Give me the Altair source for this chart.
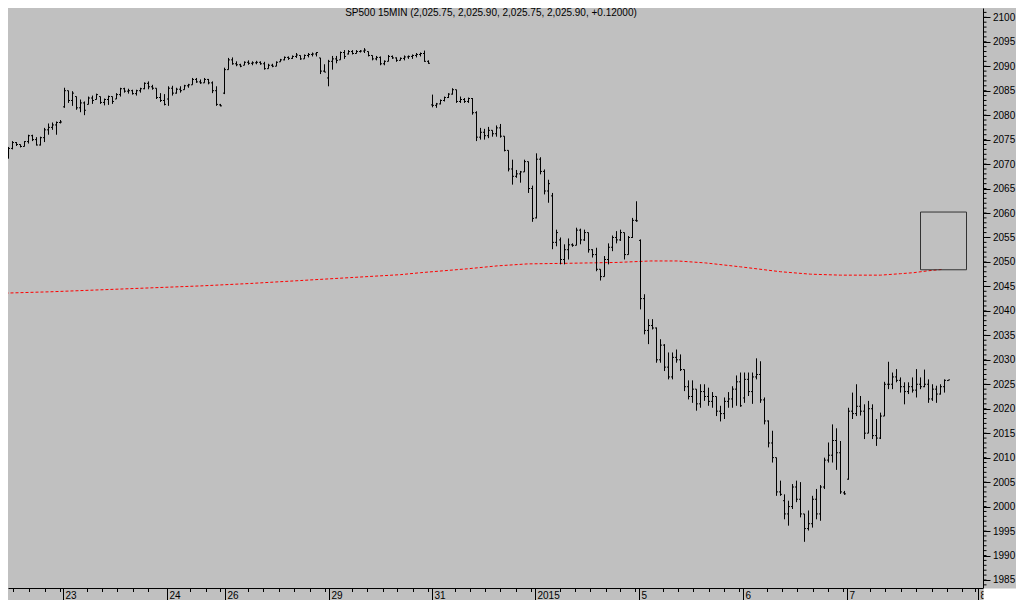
import altair as alt
import pandas as pd

FONT = "Liberation Sans"

# ---------------- data ----------------
title_text = "SP500 15MIN (2,025.75, 2,025.90, 2,025.75, 2,025.90, +0.12000)"

# x axis: day labels and their positions (in 15-minute bar slots)
day_labels = ["23", "24", "26", "29", "31", "2015", "5", "6", "7", "8"]
day_tick_slots = [15.625, 41.625, 56.125, 82.125, 107.875, 133.625, 159.625, 185.625, 211.625, 244.375]
hour_tick_slots = [3.25, 7.25, 11.25, 15.0, 21.75, 25.5, 29.25, 33.25, 37.0, 47.5, 51.5, 55.0,
                   62.0, 65.75, 69.75, 73.5, 77.5, 81.25, 88.0, 91.75, 95.75, 99.25, 103.25, 107.0,
                   113.75, 117.5, 121.25, 125.0, 129.0, 132.75, 140.0, 143.75, 147.5, 151.5, 155.0,
                   158.75, 165.75, 169.5, 173.25, 177.25, 181.0, 184.75, 191.75, 195.5, 199.25,
                   203.25, 207.0, 210.75, 217.5, 221.25, 225.25, 229.0, 233.0, 236.75, 240.5, 243.75]

# y axis
price_ticks = list(range(1985, 2101, 5))
price_minor = list(range(1984, 2102))

# OHLC bars (Dec 22 .. Jan 7)
opens = [
    2071.3, 2071.2, 2071.4, 2073.2, 2074.4, 2074.0, 2073.6, 2074.6, 2075.8, 2075.0, 2073.9, 2075.4, 2077.0, 2077.5, 2078.0, 2078.5,
    2081.7, 2085.0, 2083.0, 2083.8, 2081.5, 2082.5, 2082.2, 2083.5, 2083.2, 2083.8, 2082.6, 2083.2, 2083.8, 2083.3, 2084.2, 2085.4, 2084.9, 2085.0, 2084.4, 2085.0, 2085.4, 2086.5, 2085.8, 2085.5, 2083.6, 2083.0,
    2083.3, 2085.5, 2084.5, 2085.3, 2085.2, 2086.0, 2086.2, 2087.3, 2086.8, 2086.6, 2087.3, 2086.6, 2085.0, 2082.1,
    2084.5, 2089.3, 2091.3, 2090.5, 2090.3, 2090.2, 2090.8, 2090.6, 2090.7, 2090.8, 2090.5, 2089.5, 2090.2, 2090.0, 2090.9, 2091.3, 2091.8, 2091.6, 2092.0, 2092.2, 2091.5, 2092.2, 2092.4, 2092.5, 2091.7, 2089.0,
    2087.6, 2091.0, 2091.5, 2091.3, 2092.8, 2092.5, 2093.0, 2092.6, 2093.0, 2093.1, 2093.0, 2092.2, 2091.5, 2091.8, 2090.5, 2091.0, 2092.0, 2091.7, 2091.2, 2091.6, 2091.9, 2092.0, 2092.2, 2092.4, 2092.6, 2091.0,
    2082.1, 2082.0, 2082.3, 2083.0, 2083.6, 2084.3, 2085.2, 2082.8, 2083.2, 2082.8, 2083.4, 2080.5, 2075.5, 2076.5, 2075.8, 2076.9, 2076.2, 2077.4, 2075.7, 2072.8, 2069.0, 2067.5, 2068.0, 2068.4, 2070.5, 2065.0,
    2059.0, 2071.0, 2068.5, 2064.5, 2063.5, 2054.0, 2054.5, 2050.5, 2052.5, 2053.5, 2053.4, 2056.5, 2054.5, 2056.0, 2052.5, 2051.5, 2048.5, 2047.0, 2050.5, 2053.0, 2055.0, 2054.5, 2056.0, 2051.5, 2055.0, 2058.5,
    2054.4, 2042.5, 2036.0, 2037.0, 2036.5, 2030.0, 2033.0, 2028.5, 2026.5, 2030.5, 2030.0, 2028.0, 2024.5, 2022.5, 2024.0, 2021.0, 2023.5, 2022.5, 2021.5, 2022.5, 2019.5, 2019.0, 2021.5, 2022.0, 2024.0, 2025.5,
    2022.2, 2026.0, 2023.5, 2026.5, 2027.0, 2021.8, 2017.5, 2013.0, 2010.0, 2003.0, 2001.2, 1998.5, 2000.0, 2004.0, 2001.5, 1998.5, 1995.5, 1996.5, 2001.5, 1998.5, 2004.0, 2009.5, 2010.5, 2013.5, 2011.0, 2002.8,
    2005.6, 2019.5, 2019.0, 2020.5, 2019.5, 2015.0, 2020.0, 2014.5, 2014.0, 2018.5, 2025.0, 2025.0, 2026.5, 2025.8, 2024.5, 2023.5, 2024.5, 2023.8, 2025.0, 2024.5, 2025.0, 2022.0, 2024.0, 2023.0, 2024.5, 2025.75,
]
highs = [
    2071.6, 2071.7, 2073.5, 2074.7, 2074.5, 2074.0, 2074.7, 2076.0, 2076.0, 2075.5, 2075.6, 2077.4, 2078.3, 2078.5, 2078.7, 2079.0,
    2085.6, 2085.0, 2084.9, 2083.8, 2083.2, 2082.8, 2083.8, 2084.0, 2084.4, 2083.8, 2083.4, 2084.0, 2083.8, 2084.5, 2085.6, 2085.6, 2085.4, 2085.2, 2085.2, 2085.6, 2086.7, 2086.9, 2086.2, 2085.5, 2084.5, 2084.3,
    2085.9, 2086.0, 2085.6, 2085.9, 2086.2, 2086.4, 2087.6, 2087.6, 2087.3, 2087.6, 2087.4, 2086.9, 2085.9, 2082.3,
    2089.7, 2091.7, 2091.8, 2091.0, 2090.5, 2091.0, 2091.2, 2091.0, 2091.1, 2091.0, 2090.9, 2090.5, 2090.5, 2091.0, 2091.5, 2092.0, 2092.0, 2092.2, 2092.7, 2092.2, 2092.4, 2092.7, 2092.8, 2092.9, 2091.7, 2090.4,
    2091.3, 2092.1, 2092.1, 2093.0, 2093.3, 2093.3, 2093.3, 2093.3, 2093.3, 2093.7, 2093.0, 2092.2, 2092.1, 2092.0, 2091.2, 2092.3, 2092.2, 2091.8, 2091.8, 2092.2, 2092.2, 2092.4, 2092.7, 2092.8, 2093.2, 2091.2,
    2084.2, 2082.5, 2083.2, 2083.8, 2084.5, 2085.5, 2085.2, 2083.8, 2083.5, 2083.6, 2083.5, 2080.8, 2077.4, 2077.2, 2077.6, 2076.9, 2077.9, 2078.2, 2075.7, 2072.8, 2070.9, 2068.8, 2068.6, 2070.9, 2070.5, 2065.6,
    2072.2, 2071.4, 2068.9, 2066.8, 2064.1, 2056.6, 2055.0, 2053.6, 2054.8, 2053.8, 2057.0, 2056.8, 2056.6, 2056.0, 2052.6, 2052.9, 2048.5, 2051.2, 2053.8, 2055.4, 2056.3, 2056.6, 2056.0, 2055.3, 2059.0, 2062.4,
    2054.6, 2043.4, 2038.3, 2038.3, 2036.6, 2034.2, 2033.2, 2031.5, 2031.5, 2032.1, 2031.1, 2028.0, 2025.8, 2025.8, 2024.0, 2025.0, 2025.0, 2024.3, 2023.4, 2022.5, 2020.6, 2022.3, 2023.4, 2024.6, 2026.8, 2027.4,
    2027.4, 2027.4, 2027.4, 2030.3, 2029.7, 2022.3, 2017.6, 2015.5, 2010.0, 2005.3, 2002.5, 2001.2, 2004.6, 2005.3, 2005.0, 1998.5, 1999.2, 2002.2, 2003.6, 2004.4, 2010.0, 2013.1, 2016.8, 2016.0, 2013.4, 2003.2,
    2020.2, 2023.3, 2025.0, 2022.6, 2020.9, 2021.6, 2020.9, 2017.9, 2019.2, 2025.5, 2029.6, 2027.4, 2028.1, 2026.4, 2025.4, 2025.4, 2026.4, 2028.1, 2026.4, 2028.0, 2026.0, 2025.0, 2024.7, 2025.0, 2026.0, 2025.9,
]
lows = [
    2071.0, 2070.6, 2071.1, 2073.0, 2073.7, 2073.4, 2073.6, 2074.2, 2074.7, 2073.8, 2073.8, 2074.5, 2076.0, 2077.0, 2076.0, 2078.3,
    2081.5, 2082.5, 2081.9, 2081.1, 2080.6, 2080.0, 2082.2, 2082.3, 2083.2, 2082.3, 2082.0, 2082.1, 2082.3, 2083.3, 2083.8, 2084.6, 2084.4, 2084.2, 2084.0, 2084.6, 2085.3, 2085.3, 2085.2, 2083.3, 2082.7, 2082.0,
    2081.9, 2084.0, 2084.4, 2084.6, 2085.2, 2085.6, 2086.2, 2086.6, 2086.4, 2086.6, 2086.3, 2084.5, 2081.9, 2081.8,
    2084.3, 2089.3, 2090.3, 2090.0, 2089.8, 2090.2, 2090.3, 2090.2, 2090.4, 2090.3, 2089.3, 2089.5, 2089.8, 2090.0, 2090.9, 2091.2, 2091.3, 2091.5, 2091.7, 2091.3, 2091.5, 2091.8, 2092.0, 2092.0, 2088.4, 2088.8,
    2085.9, 2089.3, 2090.6, 2091.3, 2091.5, 2092.4, 2092.4, 2092.6, 2092.8, 2092.7, 2092.0, 2091.2, 2091.2, 2090.2, 2090.2, 2091.0, 2091.5, 2090.9, 2091.2, 2091.2, 2091.5, 2091.5, 2091.8, 2092.0, 2090.9, 2090.5,
    2081.6, 2081.5, 2082.2, 2082.8, 2083.5, 2084.2, 2082.5, 2082.5, 2082.5, 2082.5, 2080.1, 2074.7, 2075.0, 2075.0, 2075.3, 2075.6, 2075.6, 2075.4, 2072.6, 2068.5, 2065.8, 2067.2, 2066.2, 2068.4, 2064.1, 2058.2,
    2058.9, 2067.9, 2063.8, 2062.1, 2052.6, 2053.2, 2049.5, 2049.5, 2050.5, 2053.1, 2053.4, 2053.6, 2054.3, 2051.9, 2050.9, 2048.1, 2046.2, 2047.0, 2049.5, 2052.2, 2053.8, 2054.3, 2050.5, 2051.5, 2054.9, 2058.2,
    2040.3, 2035.2, 2033.2, 2036.2, 2029.4, 2029.4, 2027.7, 2026.0, 2026.0, 2029.4, 2027.7, 2023.6, 2021.9, 2021.2, 2019.6, 2020.2, 2021.6, 2020.6, 2020.2, 2018.5, 2017.4, 2017.9, 2020.2, 2020.2, 2020.6, 2020.4,
    2021.2, 2022.6, 2021.0, 2026.0, 2021.2, 2016.8, 2012.1, 2009.0, 2002.2, 2002.2, 1997.4, 1996.1, 1999.5, 2000.9, 1997.8, 1992.8, 1995.1, 1995.7, 1997.4, 1997.1, 2003.6, 2009.0, 2009.0, 2007.5, 2002.6, 2002.4,
    2005.5, 2017.9, 2018.5, 2018.6, 2013.8, 2015.0, 2013.8, 2012.4, 2013.8, 2018.5, 2024.0, 2024.0, 2025.4, 2023.3, 2020.9, 2023.0, 2023.3, 2022.3, 2024.0, 2024.4, 2021.2, 2021.6, 2021.2, 2022.9, 2023.3, 2025.75,
]
closes = [
    2071.2, 2071.4, 2073.2, 2074.4, 2074.0, 2073.6, 2074.6, 2075.8, 2075.0, 2073.9, 2075.4, 2077.0, 2077.5, 2078.0, 2078.5, 2078.6,
    2085.0, 2083.0, 2084.5, 2081.5, 2082.5, 2081.0, 2083.5, 2083.0, 2084.2, 2082.6, 2083.2, 2083.8, 2082.8, 2084.2, 2085.4, 2084.9, 2085.0, 2084.4, 2085.0, 2085.4, 2086.5, 2085.8, 2085.5, 2083.6, 2083.0, 2082.2,
    2085.5, 2084.5, 2085.3, 2085.0, 2086.0, 2086.2, 2087.3, 2086.8, 2086.6, 2087.3, 2086.6, 2085.0, 2082.2, 2081.9,
    2089.3, 2091.3, 2090.5, 2090.3, 2090.0, 2090.8, 2090.6, 2090.7, 2090.8, 2090.5, 2089.5, 2090.2, 2090.0, 2090.8, 2091.3, 2091.8, 2091.6, 2092.0, 2092.3, 2091.5, 2092.2, 2092.4, 2092.5, 2092.8, 2089.0, 2088.8,
    2091.0, 2091.5, 2091.2, 2092.8, 2092.0, 2093.0, 2092.6, 2093.0, 2093.1, 2093.3, 2092.2, 2091.5, 2091.8, 2090.5, 2091.0, 2092.0, 2091.7, 2091.2, 2091.6, 2091.9, 2092.0, 2092.2, 2092.4, 2092.6, 2091.0, 2090.6,
    2082.0, 2082.3, 2083.0, 2083.6, 2084.3, 2085.2, 2082.8, 2083.2, 2082.8, 2083.4, 2080.5, 2075.5, 2076.5, 2075.8, 2076.9, 2076.2, 2077.4, 2075.7, 2072.8, 2069.0, 2067.5, 2068.0, 2068.4, 2070.5, 2065.0, 2058.9,
    2071.0, 2068.5, 2064.5, 2066.0, 2054.0, 2056.0, 2050.5, 2052.5, 2053.5, 2053.4, 2056.5, 2054.5, 2056.0, 2052.5, 2051.5, 2048.5, 2047.0, 2050.5, 2053.0, 2055.0, 2054.5, 2056.0, 2051.5, 2055.0, 2058.5, 2058.4,
    2042.5, 2036.0, 2037.0, 2036.5, 2030.0, 2033.0, 2028.5, 2026.5, 2030.5, 2030.0, 2028.0, 2024.5, 2022.5, 2024.0, 2021.0, 2023.5, 2022.5, 2021.5, 2022.5, 2019.5, 2019.0, 2021.5, 2022.0, 2024.0, 2025.5, 2020.6,
    2026.0, 2023.5, 2026.5, 2027.0, 2021.8, 2017.5, 2013.0, 2010.0, 2003.0, 2002.5, 1998.5, 2000.0, 2004.0, 2001.5, 1998.5, 1995.5, 1996.5, 2001.5, 1998.5, 2004.0, 2009.5, 2010.5, 2013.5, 2011.0, 2003.0, 2002.6,
    2019.5, 2019.0, 2020.5, 2019.5, 2015.0, 2020.0, 2014.5, 2014.0, 2018.5, 2025.0, 2025.0, 2026.5, 2025.8, 2024.5, 2023.5, 2024.5, 2023.8, 2025.0, 2024.5, 2025.0, 2022.0, 2024.0, 2023.0, 2024.5, 2025.8, 2025.9,
]

# red dotted moving average
ma_slots = [0, 12.5, 25, 37.5, 50, 62.5, 75, 87.5, 100, 105, 116.75, 124.25, 131.75, 140, 154.25,
            162.5, 169.25, 176.25, 185, 195, 202.5, 210, 220, 225, 228.25, 232, 235.75]
ma_values = [2043.6, 2043.9, 2044.3, 2044.7, 2045.1, 2045.6, 2046.2, 2046.8, 2047.4, 2047.8, 2048.6, 2049.2,
             2049.6, 2049.7, 2049.9, 2050.2, 2050.2, 2049.8, 2049.0, 2048.0, 2047.5, 2047.3, 2047.3, 2047.6,
             2047.8, 2048.2, 2048.5]

# rectangle annotation (slot range, price range)
box_slots = [230.0, 241.5]
box_prices = [2048.4, 2060.2]

# ---------------- chart ----------------
W, H = 975, 580
xscale = alt.Scale(domain=[1.875, 245.625], nice=False, zero=False)
yscale = alt.Scale(domain=[1983.36, 2101.90], nice=False, zero=False)

label_expr = ("[" + ",".join("'%s'" % l for l in day_labels) + "][indexof(["
              + ",".join(repr(s) for s in day_tick_slots) + "], datum.value)]")

xaxis = alt.Axis(values=day_tick_slots, labelExpr=label_expr, title=None, orient="bottom",
                 tickSize=12, tickColor="black", tickWidth=1, domainColor="black", domainWidth=1,
                 labelColor="black", labelFontSize=10, labelFont=FONT, labelAlign="left",
                 labelBaseline="alphabetic", labelPadding=-1.5, labelOffset=2, labelFlush=False,
                 labelOverlap=False, labelBound=False, grid=False)
yaxis = alt.Axis(values=price_ticks, title=None, orient="right", format="d",
                 tickSize=7, tickColor="black", tickWidth=1, domainColor="black", domainWidth=1,
                 labelColor="black", labelFontSize=10, labelFont=FONT, labelPadding=2.5,
                 labelFlush=False, labelOverlap=False, labelBound=False, grid=False)


def X(field):
    return alt.X(field, type="quantitative", scale=xscale, axis=xaxis)


def Y(field):
    return alt.Y(field, type="quantitative", scale=yscale, axis=yaxis)


bars = pd.DataFrame({"slot": list(range(len(opens))), "open": opens, "high": highs,
                     "low": lows, "close": closes})
base = alt.Chart(bars)

wicks = base.mark_rule(color="black", strokeWidth=1, clip=True).encode(
    x=X("slot"), y=Y("low"), y2="high")
open_ticks = base.transform_calculate(xa="datum.slot - 0.375").mark_rule(
    color="black", strokeWidth=1, clip=True).encode(x=X("xa"), x2="slot:Q", y=Y("open"))
close_ticks = base.transform_calculate(xb="datum.slot + 0.375").mark_rule(
    color="black", strokeWidth=1, clip=True).encode(x=X("slot"), x2="xb:Q", y=Y("close"))

ma = alt.Chart(pd.DataFrame({"slot": ma_slots, "ma": ma_values})).mark_line(
    color="#ff0000", strokeWidth=1, strokeDash=[3, 2], clip=True).encode(
    x=X("slot"), y=Y("ma"))

box = alt.Chart(pd.DataFrame({"x1": [box_slots[0]], "x2": [box_slots[1]],
                              "y1": [box_prices[0]], "y2": [box_prices[1]]})).mark_rect(
    fillOpacity=0, stroke="#333333", strokeWidth=1).encode(
    x=X("x1"), x2="x2:Q", y=Y("y1"), y2="y2:Q")

hour_ticks = alt.Chart(pd.DataFrame({"s": hour_tick_slots})).mark_rule(
    color="black", strokeWidth=1).encode(x=X("s"), y=alt.value(H), y2=alt.value(H + 4))

price_minor_ticks = alt.Chart(pd.DataFrame({"p": price_minor})).mark_rule(
    color="black", strokeWidth=1).encode(y=Y("p"), x=alt.value(W), x2=alt.value(W + 3.5))

title = alt.Chart(pd.DataFrame({"t": [title_text]})).mark_text(
    font=FONT, fontSize=10, color="black", align="center", baseline="alphabetic").encode(
    x=alt.value(483), y=alt.value(8), text="t:N")

corner = alt.Chart(pd.DataFrame({"c": [0]})).mark_rect(color="white").encode(
    x=alt.value(W + 0.6), x2=alt.value(W + 33), y=alt.value(H + 0.6), y2=alt.value(H + 12))

chart = alt.layer(
    hour_ticks, price_minor_ticks, ma, box, wicks, open_ticks, close_ticks, title, corner
).properties(
    width=W, height=H,
    padding={"left": 0, "top": 0, "right": 33, "bottom": 12},
    autosize=alt.AutoSizeParams(type="none"),
    background="#c0c0c0",
).configure_view(strokeWidth=0)

chart.save("out.html", embed_options={"renderer": "svg", "actions": False})
